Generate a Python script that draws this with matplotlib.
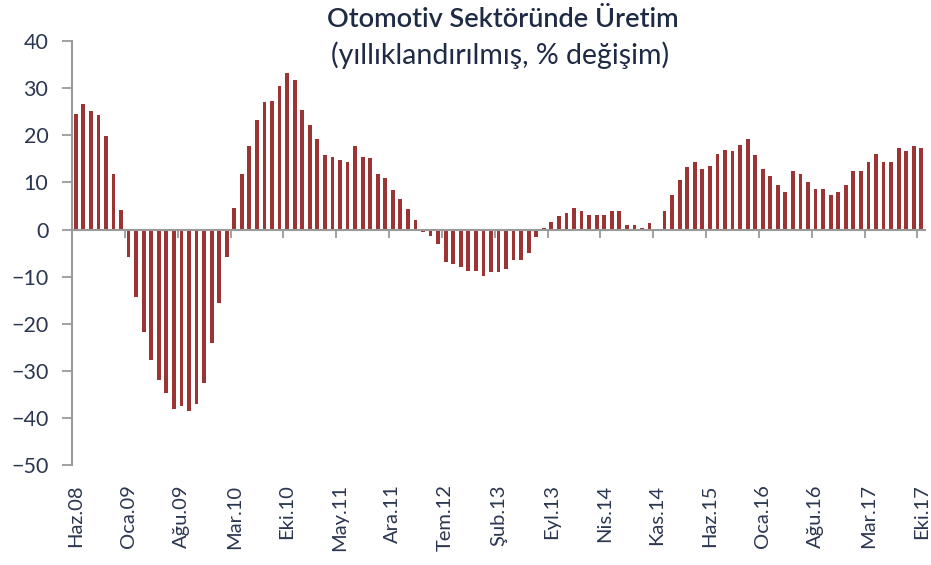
import numpy as np
import matplotlib.pyplot as plt

plt.rcParams['font.family'] = ['Lato', 'DejaVu Sans']

# yillik degisim, Haz.08 - Eki.17 (aylik)
values = [24.5, 26.6, 25.2, 24.4, 19.9, 11.7, 4.2, -5.8, -14.4, -21.8,
          -27.8, -31.9, -34.8, -38.2, -37.5, -38.6, -37.1, -32.6, -24.1, -15.5,
          -5.8, 4.6, 11.7, 17.7, 23.3, 27.1, 27.3, 30.4, 33.3, 31.8,
          25.5, 22.2, 19.2, 15.9, 15.4, 14.7, 14.4, 17.7, 15.4, 15.1,
          11.7, 11.0, 8.4, 6.5, 4.3, 2.0, -0.6, -1.3, -3.1, -6.9,
          -7.3, -8.0, -8.7, -8.7, -9.9, -9.1, -9.1, -8.4, -6.5, -6.5,
          -5.0, -1.6, 0.3, 1.6, 2.8, 3.5, 4.6, 3.9, 3.2, 3.2,
          3.2, 3.9, 3.9, 0.9, 0.9, 0.3, 1.3, 0.2, 3.9, 7.3,
          10.6, 13.2, 14.3, 12.8, 13.6, 16.1, 16.9, 16.6, 18.0, 19.2,
          15.8, 12.8, 11.3, 9.5, 8.0, 12.5, 11.7, 10.2, 8.7, 8.7,
          7.3, 8.0, 9.5, 12.5, 12.5, 14.3, 16.1, 14.3, 14.3, 17.3,
          16.6, 17.7, 17.3]

tick_labels = ["Haz.08", "Oca.09", "Ağu.09", "Mar.10", "Eki.10", "May.11",
               "Ara.11", "Tem.12", "Şub.13", "Eyl.13", "Nis.14", "Kas.14",
               "Haz.15", "Oca.16", "Ağu.16", "Mar.17", "Eki.17"]

bar_color = '#9B3535'
axis_color = '#9A9A9A'
text_color = '#2B3650'
title_color = '#1F2A44'

fig = plt.figure(figsize=(9.31, 5.65), dpi=100)
ax = fig.add_axes([0.0773, 0.177, 0.9163, 0.750])

x = np.arange(len(values))
ax.bar(x, values, width=0.5, color=bar_color)

ax.set_xlim(-0.5, len(values) - 0.5)
ax.set_ylim(-50, 40)
ax.set_yticks(range(-50, 41, 10))

for s in ['top', 'right']:
    ax.spines[s].set_visible(False)
ax.spines['left'].set_color(axis_color)
ax.spines['left'].set_linewidth(1.5)
ax.spines['bottom'].set_position(('data', 0))
ax.spines['bottom'].set_color(axis_color)
ax.spines['bottom'].set_linewidth(1.5)

ax.tick_params(axis='y', length=7, width=1.3, color=axis_color,
               labelcolor=text_color, labelsize=15.5, pad=10)
ax.set_xticks(np.arange(6.5, len(values), 7))
ax.set_xticklabels([])
ax.tick_params(axis='x', length=6, width=1.3, color=axis_color)

sec = ax.secondary_xaxis('bottom')
sec.set_xticks(np.arange(0, len(values), 7), labels=tick_labels, rotation=90)
sec.tick_params(length=0, pad=14, labelsize=14.5, labelcolor=text_color)
sec.spines['bottom'].set_visible(False)

fig.text(0.54, 0.965, "Otomotiv Sektöründe Üretim", ha='center', va='center',
         fontsize=19.5, color=title_color, fontweight='semibold')
fig.text(0.537, 0.902, "(yıllıklandırılmış, % değişim)", ha='center', va='center',
         fontsize=20.5, color=title_color)

fig.savefig('out.png', dpi=100)
